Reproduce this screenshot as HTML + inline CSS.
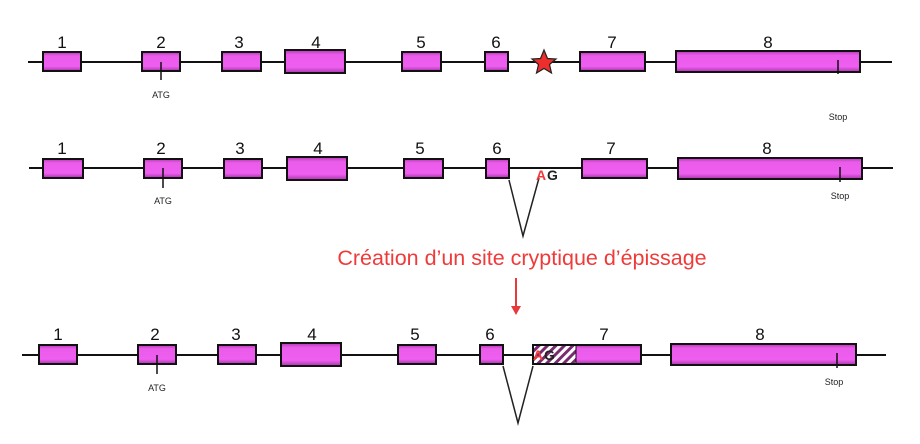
<!DOCTYPE html>
<html><head><meta charset="utf-8"><style>
html,body{margin:0;padding:0;background:#fff;width:920px;height:444px;overflow:hidden}
svg{display:block}
text{font-family:"Liberation Sans",Arial,sans-serif}
</style></head><body>
<svg width="920" height="444" viewBox="0 0 920 444" xmlns="http://www.w3.org/2000/svg">
<defs>
<linearGradient id="g" x1="0" y1="0" x2="0" y2="1">
<stop offset="0" stop-color="#b43ab0"/><stop offset="0.2" stop-color="#ea5cea"/><stop offset="0.75" stop-color="#ee5ef0"/><stop offset="1" stop-color="#a836a8"/>
</linearGradient>
<pattern id="h" width="6" height="6" patternUnits="userSpaceOnUse" patternTransform="rotate(45)">
<rect width="6" height="6" fill="#fff"/><rect width="3" height="6" fill="#7a2a6e"/>
</pattern>
</defs>
<g stroke="#111" stroke-width="2" fill="none">
<line x1="28" y1="62" x2="892" y2="62"/>
<line x1="29" y1="168" x2="893" y2="168"/>
<line x1="22" y1="355" x2="886" y2="355"/>
</g>
<g fill="url(#g)" stroke="#111" stroke-width="2">
<rect x="43" y="52" width="38" height="19"/>
<rect x="142" y="52" width="38" height="19"/>
<rect x="222" y="52" width="39" height="19"/>
<rect x="285" y="50" width="60" height="23"/>
<rect x="402" y="52" width="39" height="19"/>
<rect x="485" y="52" width="23" height="19"/>
<rect x="580" y="52" width="65" height="19"/>
<rect x="676" y="51" width="184" height="21"/>
<rect x="43" y="159" width="40" height="19"/>
<rect x="144" y="159" width="38" height="19"/>
<rect x="224" y="159" width="38" height="19"/>
<rect x="287" y="157" width="60" height="23"/>
<rect x="404" y="159" width="39" height="19"/>
<rect x="486" y="159" width="23" height="19"/>
<rect x="582" y="159" width="65" height="19"/>
<rect x="678" y="158" width="184" height="21"/>
<rect x="39" y="345" width="38" height="19"/>
<rect x="138" y="345" width="38" height="19"/>
<rect x="218" y="345" width="38" height="19"/>
<rect x="281" y="343" width="60" height="23"/>
<rect x="398" y="345" width="38" height="19"/>
<rect x="480" y="345" width="23" height="19"/>
<rect x="533" y="345" width="108" height="19"/>
<rect x="671" y="344" width="185" height="21"/>
</g>
<rect x="534" y="346" width="42" height="17" fill="url(#h)"/>
<rect x="533" y="345" width="108" height="19" fill="none" stroke="#111" stroke-width="2"/>
<line x1="576" y1="345" x2="576" y2="364" stroke="#111" stroke-width="1"/>
<g stroke="#111" stroke-width="1.5">
<line x1="161" y1="62" x2="161" y2="80"/>
<line x1="838" y1="60" x2="838" y2="74"/>
<line x1="163" y1="168" x2="163" y2="188"/>
<line x1="840" y1="167" x2="840" y2="182"/>
<line x1="157" y1="355" x2="157" y2="374"/>
<line x1="837" y1="353" x2="837" y2="368"/>
</g>
<g stroke="#222" stroke-width="1.5" fill="none">
<polyline points="509,180 523,236 539,178"/>
<polyline points="503,366 518,423 533,366"/>
</g>
<polygon points="544,50 547.5,58.5 556,59 549.5,64.5 551.5,73 544,68.5 536.5,73 538.5,64.5 532,59 540.5,58.5" fill="#ee2d2d" stroke="#222" stroke-width="1.2"/>
<g font-size="17" fill="#111" text-anchor="middle">
<text x="62" y="48">1</text><text x="161" y="48">2</text><text x="239" y="48">3</text><text x="316" y="48">4</text><text x="421" y="48">5</text><text x="496" y="48">6</text><text x="612" y="48">7</text><text x="768" y="48">8</text>
<text x="62" y="154">1</text><text x="161" y="154">2</text><text x="240" y="154">3</text><text x="318" y="154">4</text><text x="420" y="154">5</text><text x="497" y="154">6</text><text x="611" y="154">7</text><text x="767" y="154">8</text>
<text x="58" y="340">1</text><text x="155" y="340">2</text><text x="236" y="340">3</text><text x="312" y="340">4</text><text x="415" y="340">5</text><text x="490" y="340">6</text><text x="604" y="340">7</text><text x="760" y="340">8</text>
</g>
<g font-size="9" fill="#222" text-anchor="middle">
<text x="161" y="98">ATG</text><text x="163" y="204">ATG</text><text x="157" y="391">ATG</text>
<text x="838" y="120">Stop</text><text x="840" y="199">Stop</text><text x="834" y="385">Stop</text>
</g>
<text x="536" y="180" font-size="14" font-weight="bold" fill="#f03a3a">A</text>
<text x="547" y="180" font-size="14" font-weight="bold" fill="#222">G</text>
<text x="533" y="360" font-size="14" font-weight="bold" fill="#f03a3a">A</text>
<text x="544" y="360" font-size="14" font-weight="bold" fill="#222">G</text>
<text x="522" y="265" font-size="21.5" fill="#f03a3a" text-anchor="middle">Création d’un site cryptique d’épissage</text>
<line x1="516" y1="278" x2="516" y2="308" stroke="#e83a3a" stroke-width="2"/>
<polygon points="511,306 521,306 516,315" fill="#e83a3a"/>
</svg>
</body></html>
